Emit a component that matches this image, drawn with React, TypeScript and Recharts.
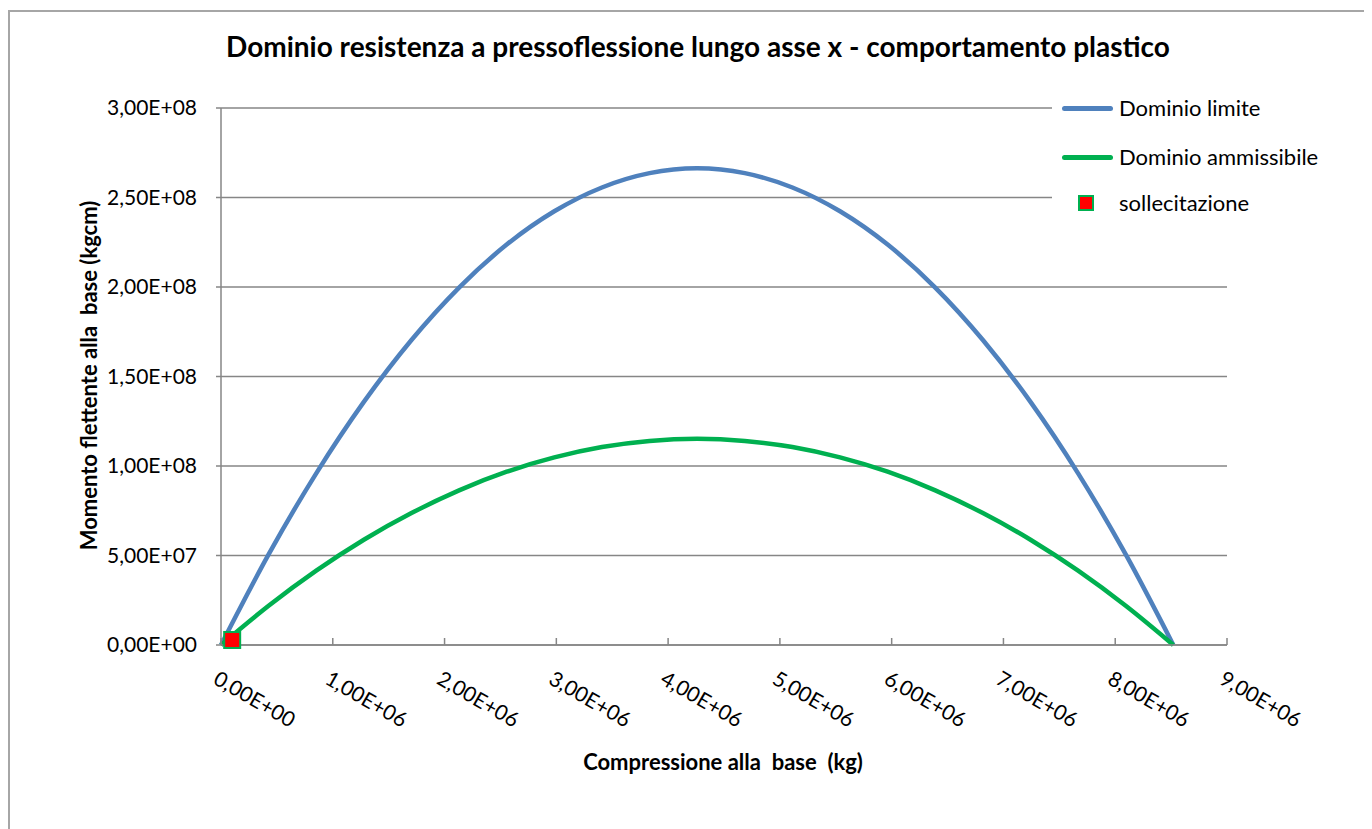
import React from 'react'
import { CartesianGrid, ComposedChart, Line, Scatter, XAxis, YAxis } from 'recharts'

// compressione alla base (kg)
const compressione = [
  0, 426000, 852000, 1278000, 1704000, 2130000, 2556000, 2982000, 3408000, 3834000, 4260000,
  4686000, 5112000, 5538000, 5964000, 6390000, 6816000, 7242000, 7668000, 8094000, 8520000
]
// momento flettente (kgcm) - dominio limite
const dominioLimite = [
  0, 5.06e7, 9.59e7, 1.358e8, 1.704e8, 1.997e8, 2.237e8, 2.423e8, 2.556e8, 2.636e8, 2.663e8,
  2.636e8, 2.556e8, 2.423e8, 2.237e8, 1.997e8, 1.704e8, 1.358e8, 9.59e7, 5.06e7, 0
]
// momento flettente (kgcm) - dominio ammissibile
const dominioAmmissibile = [
  0, 2.19e7, 4.15e7, 5.88e7, 7.37e7, 8.64e7, 9.68e7, 1.048e8, 1.106e8, 1.14e8, 1.152e8,
  1.14e8, 1.106e8, 1.048e8, 9.68e7, 8.64e7, 7.37e7, 5.88e7, 4.15e7, 2.19e7, 0
]
const sollecitazioneN = [100000]
const sollecitazioneM = [2.8e6]

const xTicks = [0, 1e6, 2e6, 3e6, 4e6, 5e6, 6e6, 7e6, 8e6, 9e6]
const yTicks = [0, 5e7, 1e8, 1.5e8, 2e8, 2.5e8, 3e8]

const limiteData = compressione.map((n, i) => ({ n, m: dominioLimite[i] }))
const ammissibileData = compressione.map((n, i) => ({ n, m: dominioAmmissibile[i] }))
const sollecitazioneData = sollecitazioneN.map((n, i) => ({ n, m: sollecitazioneM[i] }))

const FONT = 'Lato, "Open Sans", sans-serif'
const GRID = '#868686'
const BLUE = '#4F81BD'
const GREEN = '#00B050'

const fmt = (v: number) => {
  const [mant, exp] = v.toExponential(2).split('e')
  const e = parseInt(exp, 10)
  return mant.replace('.', ',') + 'E' + (e < 0 ? '-' : '+') + String(Math.abs(e)).padStart(2, '0')
}

const XTick = (props: any) => {
  const { x, y, payload } = props
  const tx = x - 9
  const ty = y + 38
  return (
    <g>
      <line x1={x} x2={x} y1={y - 7} y2={y} stroke={GRID} strokeWidth={1.5} />
      <text x={tx} y={ty} transform={`rotate(30, ${tx}, ${ty})`} fontSize={21} fontFamily={FONT} fill="#000">
        {fmt(payload.value)}
      </text>
    </g>
  )
}

const RedSquare = (props: any) => {
  const { cx, cy } = props
  return <rect x={cx - 8} y={cy - 8} width={16} height={16} fill="#FF0000" stroke={GREEN} strokeWidth={2} />
}

const App = () => {
  return (
    <div style={{ position: 'relative', width: 1364, height: 821, fontFamily: FONT }}>
      <div style={{ position: 'absolute', left: 0, top: 2, width: 1364, height: 819, borderLeft: '2px solid #a6a6a6', borderTop: '2px solid #a6a6a6' }} />
      <ComposedChart width={1364} height={821} margin={{ top: 100, right: 145, bottom: 154, left: 0 }}>
        <CartesianGrid vertical={false} stroke={GRID} strokeWidth={1.5} />
        <XAxis
          type="number"
          dataKey="n"
          domain={[0, 9e6]}
          ticks={xTicks}
          height={30}
          tickSize={0}
          tickMargin={0}
          tickLine={false}
          axisLine={{ stroke: GRID, strokeWidth: 1.5 }}
          tick={<XTick />}
          interval={0}
        />
        <YAxis
          type="number"
          dataKey="m"
          domain={[0, 3e8]}
          ticks={yTicks}
          width={213}
          tickSize={5}
          tickMargin={19}
          tickLine={{ stroke: GRID, strokeWidth: 1.5 }}
          axisLine={{ stroke: GRID, strokeWidth: 1.5 }}
          tick={{ fill: '#000', fontSize: 21, fontFamily: FONT }}
          tickFormatter={fmt}
          interval={0}
        />
        <Line data={limiteData} dataKey="m" type="monotone" stroke={BLUE} strokeWidth={4.5} dot={false} isAnimationActive={false} />
        <Line data={ammissibileData} dataKey="m" type="monotone" stroke={GREEN} strokeWidth={4.5} dot={false} isAnimationActive={false} />
        <Scatter data={sollecitazioneData} dataKey="m" shape={<RedSquare />} isAnimationActive={false} />
      </ComposedChart>

      <div style={{ position: 'absolute', left: 0, top: 21, width: 1380, textAlign: 'center', fontWeight: 700, fontSize: 28, color: '#000' }}>
        Dominio resistenza a pressoflessione lungo asse x - comportamento plastico
      </div>
      <div style={{ position: 'absolute', left: 0, top: 740, width: 1430, textAlign: 'center', fontWeight: 700, fontSize: 22, color: '#000', whiteSpace: 'pre' }}>
        {'Compressione alla  base  (kg)'}
      </div>
      <div
        style={{
          position: 'absolute', left: 80, top: 368, width: 0, height: 0,
        }}
      >
        <div style={{ position: 'absolute', left: -300, top: -14, width: 600, textAlign: 'center', transform: 'rotate(-90deg)', fontWeight: 700, fontSize: 22, color: '#000', whiteSpace: 'pre' }}>
          {'Momento flettente alla  base (kgcm)'}
        </div>
      </div>

      <div style={{ position: 'absolute', left: 1044, top: 84, width: 320, height: 140, background: '#fff', fontSize: 22, color: '#000' }}>
        <div style={{ position: 'absolute', left: 10, top: 14, width: 51, height: 5, borderRadius: 3, background: BLUE }} />
        <div style={{ position: 'absolute', left: 67, top: 2, lineHeight: '28px' }}>Dominio limite</div>
        <div style={{ position: 'absolute', left: 10, top: 63, width: 51, height: 5, borderRadius: 3, background: GREEN }} />
        <div style={{ position: 'absolute', left: 67, top: 51, lineHeight: '28px' }}>Dominio ammissibile</div>
        <div style={{ position: 'absolute', left: 26, top: 103, width: 12, height: 12, background: '#FF0000', border: `2px solid ${GREEN}` }} />
        <div style={{ position: 'absolute', left: 67, top: 97, lineHeight: '28px' }}>sollecitazione</div>
      </div>
    </div>
  )
}

export default App
